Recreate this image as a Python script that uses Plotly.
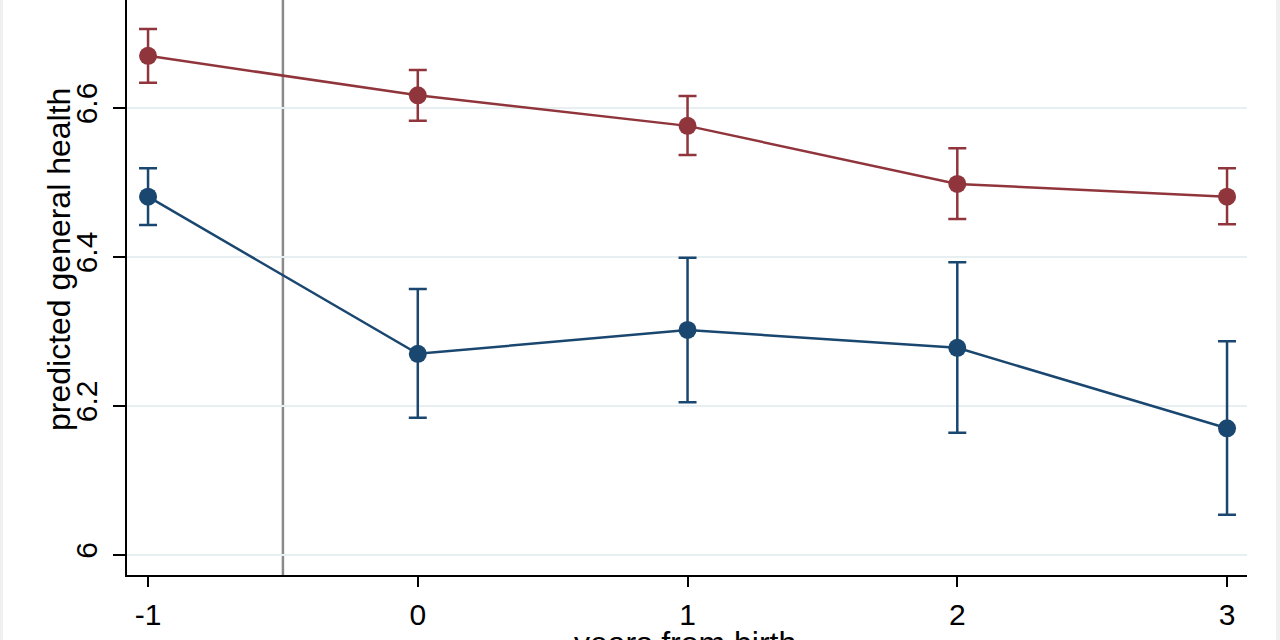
import plotly.graph_objects as go

years = [-1, 0, 1, 2, 3]

red_est = [6.670, 6.617, 6.576, 6.498, 6.481]
red_hi = [6.706, 6.651, 6.616, 6.546, 6.519]
red_lo = [6.634, 6.583, 6.537, 6.451, 6.444]

blue_est = [6.481, 6.270, 6.302, 6.278, 6.170]
blue_hi = [6.519, 6.357, 6.399, 6.393, 6.287]
blue_lo = [6.443, 6.184, 6.205, 6.164, 6.054]

y_ticks = [6, 6.2, 6.4, 6.6]
y_tick_text = ["6", "6.2", "6.4", "6.6"]
x_ticks = [-1, 0, 1, 2, 3]
x_tick_text = ["-1", "0", "1", "2", "3"]
ref_year = -0.5

RED = "#90353b"
BLUE = "#1a476f"
FONT = "Liberation Sans, Arial, sans-serif"

fig = go.Figure()


def add_series(est, hi, lo, color):
    fig.add_trace(go.Scatter(
        x=years, y=est, mode="lines+markers",
        line=dict(color=color, width=2.5),
        marker=dict(color=color, size=18, line=dict(width=0)),
        error_y=dict(type="data", symmetric=False,
                     array=[h - e for h, e in zip(hi, est)],
                     arrayminus=[e - l for e, l in zip(est, lo)],
                     color=color, thickness=2.5, width=9),
        showlegend=False, cliponaxis=False,
    ))


add_series(blue_est, blue_hi, blue_lo, BLUE)
add_series(red_est, red_hi, red_lo, RED)

fig.add_shape(type="line", xref="x", yref="paper", x0=ref_year, x1=ref_year,
              y0=0, y1=1, line=dict(color="#8a8a8a", width=2.5), layer="below")

# faint outer strips
fig.add_shape(type="rect", xref="paper", yref="paper", x0=(1276 - 127) / 1120, x1=(1280 - 127) / 1120,
              y0=-65 / 575, y1=1, fillcolor="#f0f0f0", line=dict(width=0), layer="below")
fig.add_shape(type="rect", xref="paper", yref="paper", x0=-127 / 1120, x1=(3 - 127) / 1120,
              y0=-65 / 575, y1=1, fillcolor="#f0f0f0", line=dict(width=0), layer="below")

fig.add_annotation(text="predicted general health", xref="paper", yref="paper",
                   x=(59 - 127) / 1120, y=(575 - 260) / 575, textangle=-90,
                   showarrow=False, xanchor="center", yanchor="middle",
                   font=dict(family=FONT, size=32, color="black"))
fig.add_annotation(text="years from birth", xref="paper", yref="paper",
                   x=(685 - 127) / 1120, y=-(623 - 575) / 575,
                   showarrow=False, xanchor="center", yanchor="top",
                   font=dict(family=FONT, size=32, color="black"))

fig.update_layout(
    width=1280, height=640,
    margin=dict(l=127, r=33, t=0, b=65),
    paper_bgcolor="white", plot_bgcolor="white",
    font=dict(family=FONT, size=30, color="black"),
    xaxis=dict(range=[-1.078, 3.074], tickvals=x_ticks, ticktext=x_tick_text,
               showgrid=False, zeroline=False, showline=True, linecolor="black",
               linewidth=2, ticks="outside", ticklen=10, tickwidth=2, tickcolor="black",
               ticklabelstandoff=2,
               tickfont=dict(family=FONT, size=30, color="black")),
    yaxis=dict(range=[5.973, 6.745], tickvals=y_ticks, ticktext=y_tick_text,
               showgrid=True, gridcolor="#e8eff1", gridwidth=2, zeroline=False,
               showline=True, linecolor="black", linewidth=2, ticks="outside",
               ticklen=12, tickwidth=2, tickcolor="black", tickangle=-90,
               ticklabelstandoff=4,
               tickfont=dict(family=FONT, size=30, color="black")),
)

fig.write_html("out.html", config={"displayModeBar": False},
               post_script="document.body.style.margin='0';document.body.style.overflow='hidden';")
